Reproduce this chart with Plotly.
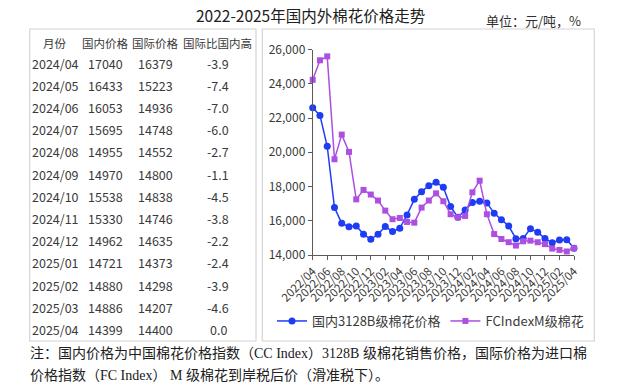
import plotly.graph_objects as go

W, H = 622, 388

months = ["2022/04", "2022/05", "2022/06", "2022/07", "2022/08", "2022/09", "2022/10", "2022/11", "2022/12",
          "2023/01", "2023/02", "2023/03", "2023/04", "2023/05", "2023/06", "2023/07", "2023/08", "2023/09",
          "2023/10", "2023/11", "2023/12", "2024/01", "2024/02", "2024/03", "2024/04", "2024/05", "2024/06",
          "2024/07", "2024/08", "2024/09", "2024/10", "2024/11", "2024/12", "2025/01", "2025/02", "2025/03",
          "2025/04"]

domestic = [22600, 22150, 20350, 16770, 15850, 15650, 15700, 15210, 14920, 15210, 15660, 15370, 15560,
            16340, 17250, 17700, 18050, 18250, 17950, 16830, 16200, 16630, 17060, 17140, 17040, 16433,
            16053, 15695, 14955, 14970, 15538, 15330, 14962, 14721, 14880, 14886, 14399]

intl = [24230, 25370, 25600, 19590, 21030, 20020, 17250, 17800, 17530, 17180, 16590, 16090, 16160,
        15930, 15890, 16770, 17180, 17600, 17140, 16380, 16200, 16280, 17660, 18340, 16379, 15223,
        14936, 14748, 14552, 14800, 14838, 14746, 14635, 14373, 14298, 14207, 14400]

tick_months = months[::2]

table_header = ["月份", "国内价格", "国际价格", "国际比国内高"]
table_months = ["2024/04", "2024/05", "2024/06", "2024/07", "2024/08", "2024/09", "2024/10",
                "2024/11", "2024/12", "2025/01", "2025/02", "2025/03", "2025/04"]
table_domestic = [17040, 16433, 16053, 15695, 14955, 14970, 15538, 15330, 14962, 14721, 14880, 14886, 14399]
table_intl = [16379, 15223, 14936, 14748, 14552, 14800, 14838, 14746, 14635, 14373, 14298, 14207, 14400]
table_diff = ["-3.9", "-7.4", "-7.0", "-6.0", "-2.7", "-1.1", "-4.5", "-3.8", "-2.2", "-2.4", "-3.9", "-4.6", "0.0"]

title_text = "2022-2025年国内外棉花价格走势"
unit_text = "单位：元/吨，%"
note_line1 = "注：国内价格为中国棉花价格指数（CC Index）3128B 级棉花销售价格，国际价格为进口棉"
note_line2 = "价格指数（FC Index） M 级棉花到岸税后价（滑准税下）。"

CJK = "Noto Sans CJK SC"
BLUE = "#1f3cf5"
PURPLE = "#ad4fe0"
TXT = "#3a3a3a"

def px(x):
    return x / W

def py(y):
    return 1 - y / H

fig = go.Figure()
fig.add_trace(go.Scatter(x=months, y=domestic, name="国内3128B级棉花价格", mode="lines+markers",
                         line=dict(color=BLUE, width=1.5), marker=dict(symbol="circle", size=7, color=BLUE),
                         cliponaxis=False))
fig.add_trace(go.Scatter(x=months, y=intl, name="FCIndexM级棉花", mode="lines+markers",
                         line=dict(color=PURPLE, width=1.5), marker=dict(symbol="square", size=6, color=PURPLE),
                         cliponaxis=False))

shapes = []
shapes.append(dict(type="rect", xref="paper", yref="paper", x0=px(29.7), x1=px(256), y0=py(341), y1=py(29),
                   line=dict(color="#d4d4d4", width=1.2), layer="below"))
shapes.append(dict(type="rect", xref="paper", yref="paper", x0=px(262.3), x1=px(594.3), y0=py(341), y1=py(29),
                   line=dict(color="#d4d4d4", width=1.2), layer="below"))

ann = []
ann.append(dict(text=title_text, x=px(310), y=py(15), xref="paper", yref="paper", showarrow=False,
                xanchor="center", yanchor="middle", font=dict(family=CJK, size=15.5, color="#202020")))
ann.append(dict(text=unit_text, x=px(484), y=py(20), xref="paper", yref="paper", showarrow=False,
                xanchor="left", yanchor="middle", font=dict(family=CJK, size=13, color="#303030")))

hdr_x = [55, 105, 155, 217]
for t, xc in zip(table_header, hdr_x):
    ann.append(dict(text=t, x=px(xc), y=py(42.5), xref="paper", yref="paper", showarrow=False,
                    xanchor="center", yanchor="middle", font=dict(family=CJK, size=11.5, color=TXT)))
for i in range(len(table_months)):
    yy = py(63.3 + i * 22.17)
    ann.append(dict(text=table_months[i], x=px(29.5), y=yy, xref="paper", yref="paper", showarrow=False,
                    xanchor="left", yanchor="middle", font=dict(family=CJK, size=12.5, color=TXT)))
    ann.append(dict(text=str(table_domestic[i]), x=px(105), y=yy, xref="paper", yref="paper", showarrow=False,
                    xanchor="center", yanchor="middle", font=dict(family=CJK, size=12.5, color=TXT)))
    ann.append(dict(text=str(table_intl[i]), x=px(155), y=yy, xref="paper", yref="paper", showarrow=False,
                    xanchor="center", yanchor="middle", font=dict(family=CJK, size=12.5, color=TXT)))
    ann.append(dict(text=table_diff[i], x=px(218), y=yy, xref="paper", yref="paper", showarrow=False,
                    xanchor="center", yanchor="middle", font=dict(family=CJK, size=12.5, color=TXT)))

NOTE_FONT = dict(family="Liberation Serif, " + CJK, size=14, color="#202020")
ann.append(dict(text=note_line1, x=px(28), y=py(353), xref="paper", yref="paper", showarrow=False,
                xanchor="left", yanchor="middle", font=NOTE_FONT))
ann.append(dict(text=note_line2, x=px(28), y=py(375), xref="paper", yref="paper", showarrow=False,
                xanchor="left", yanchor="middle", font=NOTE_FONT))

fig.update_layout(
    width=W, height=H, autosize=False,
    margin=dict(l=0, r=0, t=0, b=0, pad=0),
    paper_bgcolor="white", plot_bgcolor="white",
    shapes=shapes, annotations=ann,
    showlegend=True,
    legend=dict(orientation="h", x=px(272), y=py(321), xanchor="left", yanchor="middle",
                font=dict(family=CJK, size=13, color=TXT), bgcolor="rgba(0,0,0,0)",
                itemwidth=30, tracegroupgap=0),
    xaxis=dict(domain=[px(312.7), px(574)], type="category", range=[0, 36], automargin=False,
               tickvals=tick_months, ticktext=tick_months, tickangle=-45,
               showline=True, linecolor="#5a5a5a", linewidth=1, ticks="outside", ticklen=4,
               tickcolor="#5a5a5a", showgrid=False, zeroline=False,
               tickfont=dict(family=CJK, size=11.5, color=TXT)),
    yaxis=dict(domain=[py(255), py(49.5)], range=[14000, 26000], dtick=2000, tickformat=",", automargin=False,
               showline=True, linecolor="#5a5a5a", linewidth=1, ticks="outside", ticklen=4,
               tickcolor="#5a5a5a", showgrid=False, zeroline=False,
               tickfont=dict(family=CJK, size=12, color=TXT)),
)

fig.write_html("out.html", config={"displayModeBar": False},
               post_script="document.body.style.margin='0px';")
